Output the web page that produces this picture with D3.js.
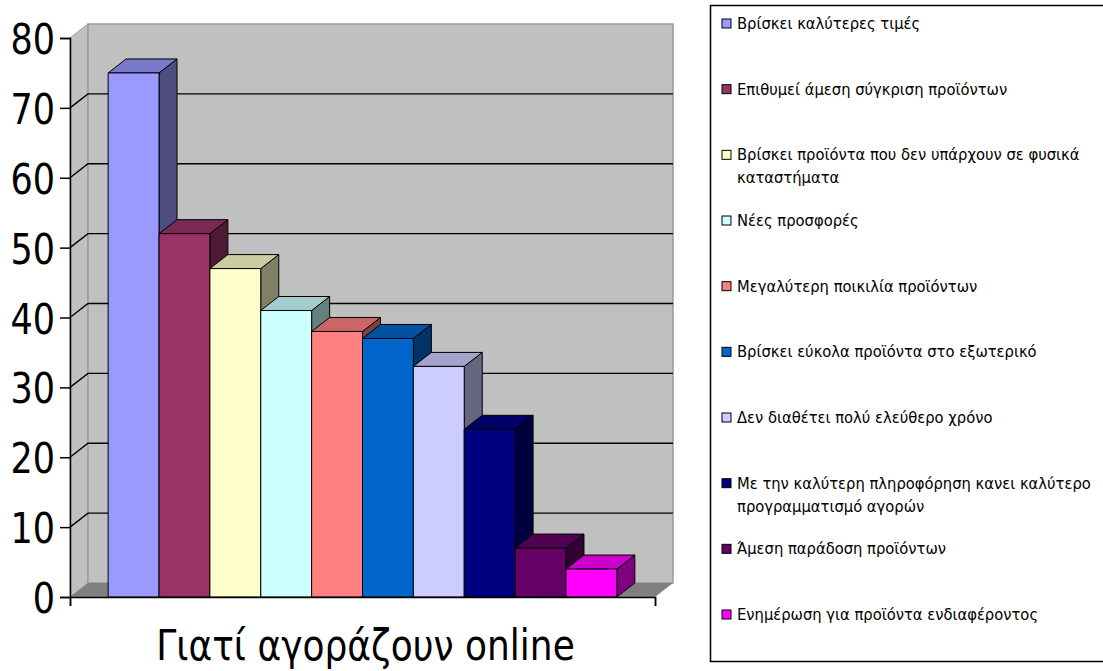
<!DOCTYPE html>
<html>
<head>
<meta charset="utf-8">
<script src="https://cdn.jsdelivr.net/npm/d3@7"></script>
<style>
  body { margin: 0; background: #fff; }
  svg { display: block; }
</style>
</head>
<body>
<svg id="chart" width="1103" height="671"></svg>
<script>
// ---- data ----
const category = "Γιατί αγοράζουν online";

const seriesNames = [
  ["Βρίσκει καλύτερες τιμές"],
  ["Επιθυμεί άμεση σύγκριση προϊόντων"],
  ["Βρίσκει προϊόντα που δεν υπάρχουν σε φυσικά", "καταστήματα"],
  ["Νέες προσφορές"],
  ["Μεγαλύτερη ποικιλία προϊόντων"],
  ["Βρίσκει εύκολα προϊόντα στο εξωτερικό"],
  ["Δεν διαθέτει πολύ ελεύθερο χρόνο"],
  ["Με την καλύτερη πληροφόρηση κανει καλύτερο", "προγραμματισμό αγορών"],
  ["Άμεση παράδοση προϊόντων"],
  ["Ενημέρωση για προϊόντα ενδιαφέροντος"]
];

const seriesValues = [75, 52, 47, 41, 38, 37, 33, 24, 7, 4];

const seriesColors = ["#9999FF", "#993366", "#FFFFCC", "#CCFFFF", "#FF8080",
                      "#0066CC", "#CCCCFF", "#000080", "#660066", "#FF00FF"];

const yTicks = [0, 10, 20, 30, 40, 50, 60, 70, 80];

// ---- layout ----
const svg = d3.select("#chart");
const plot = { left: 70, right: 655, top: 38, bottom: 597 };
const depth = { dx: 18, dy: -14 };   // oblique offset of the 3-D box

const y = d3.scaleLinear().domain([0, 80]).range([plot.bottom, plot.top]);
const xCat = d3.scaleBand().domain([category])
  .range([plot.left, plot.right]).paddingInner(0).paddingOuter(0.075);
const xSer = d3.scaleBand().domain(d3.range(seriesValues.length))
  .range([0, xCat.bandwidth()]).padding(0);

const L = plot.left, R = plot.right, dx = depth.dx, dy = depth.dy;
const y0 = y(0), yMax = y(80);
const pts = a => a.map(p => p.join(",")).join(" ");

// ---- walls and floor ----
const walls = svg.append("g");
walls.append("polygon")     // left side wall
  .attr("points", pts([[L, yMax], [L + dx, yMax + dy], [L + dx, y0 + dy], [L, y0]]))
  .attr("fill", "#C0C0C0").attr("stroke", "#9a9a9a").attr("stroke-width", 1);
walls.append("rect")        // back wall
  .attr("x", L + dx).attr("y", yMax + dy)
  .attr("width", R - L).attr("height", y0 - yMax)
  .attr("fill", "#C0C0C0").attr("stroke", "#9a9a9a").attr("stroke-width", 1.5);
walls.append("polygon")     // floor
  .attr("points", pts([[L, y0], [L + dx, y0 + dy], [R + dx, y0 + dy], [R, y0]]))
  .attr("fill", "#808080");

// gridlines folded across the side wall and the back wall
walls.selectAll("path.grid")
  .data(yTicks.filter(t => t > 0 && t < 80))
  .join("path")
  .attr("class", "grid")
  .attr("d", t => `M${L},${y(t)}L${L + dx},${y(t) + dy}L${R + dx},${y(t) + dy}`)
  .attr("fill", "none").attr("stroke", "#000").attr("stroke-width", 1.4);

// ---- bars ----
const shade = (c, k) => d3.interpolateRgb(c, "#000")(k);
const bars = svg.append("g").attr("stroke", "#000").attr("stroke-width", 1).attr("stroke-linejoin", "round");
seriesValues.forEach((v, i) => {
  const x0 = xCat(category) + xSer(i);
  const w = xSer.bandwidth();
  const yt = y(v);
  const g = bars.append("g");
  g.append("polygon")   // side
    .attr("points", pts([[x0 + w, yt], [x0 + w + dx, yt + dy], [x0 + w + dx, y0 + dy], [x0 + w, y0]]))
    .attr("fill", shade(seriesColors[i], 0.5));
  g.append("polygon")   // top
    .attr("points", pts([[x0, yt], [x0 + dx, yt + dy], [x0 + w + dx, yt + dy], [x0 + w, yt]]))
    .attr("fill", shade(seriesColors[i], 0.2));
  g.append("rect")      // front
    .attr("x", x0).attr("y", yt).attr("width", w).attr("height", y0 - yt)
    .attr("fill", seriesColors[i]);
});

// ---- axes ----
const yAxis = svg.append("g")
  .attr("transform", `translate(${L},0)`)
  .call(d3.axisLeft(y).tickValues(yTicks).tickSize(10).tickPadding(5));
yAxis.select(".domain").attr("stroke", "#000").attr("stroke-width", 1.5);
yAxis.selectAll(".tick line").attr("stroke", "#000").attr("stroke-width", 1.5);
yAxis.selectAll(".tick text")
  .attr("fill", "#000")
  .attr("font-family", "DejaVu Sans, Verdana, sans-serif")
  .attr("font-size", 35)
  .attr("dy", "0.365em")
  .attr("transform", "scale(1,1.22)");

const xEdge = d3.scaleLinear().domain([0, 1]).range([L, R]);
const xAxis = svg.append("g")
  .attr("transform", `translate(0,${y0})`)
  .call(d3.axisBottom(xEdge).tickValues([0, 1]).tickSize(9).tickFormat(""));
xAxis.select(".domain").attr("stroke", "#000").attr("stroke-width", 1.5);
xAxis.selectAll(".tick line").attr("stroke", "#000").attr("stroke-width", 1.5);

// category label
svg.append("text")
  .attr("transform", `translate(${(L + R) / 2 + 3},660) scale(1,1.18)`)
  .attr("text-anchor", "middle")
  .attr("font-family", "DejaVu Sans, Verdana, sans-serif")
  .attr("font-size", 36)
  .attr("fill", "#000")
  .text(category);

// ---- legend ----
const legend = svg.append("g");
legend.append("rect")
  .attr("x", 710.5).attr("y", 5.5).attr("width", 400).attr("height", 656)
  .attr("fill", "#fff").attr("stroke", "#000").attr("stroke-width", 1.5);

const ly = d3.scalePoint().domain(d3.range(seriesNames.length)).range([29, 620]);
const items = legend.selectAll("g.item").data(seriesNames).join("g")
  .attr("class", "item")
  .attr("transform", (d, i) => `translate(722,${ly(i)})`);
items.append("rect")
  .attr("x", 0).attr("y", -10).attr("width", 9).attr("height", 9)
  .attr("fill", (d, i) => seriesColors[i]).attr("stroke", "#000").attr("stroke-width", 1);
items.append("text")
  .attr("x", 15)
  .attr("font-family", "DejaVu Sans Condensed, DejaVu Sans, sans-serif")
  .attr("font-size", 16.4)
  .attr("fill", "#000")
  .selectAll("tspan").data(d => d).join("tspan")
  .attr("x", 15).attr("dy", (d, j) => j === 0 ? 0 : 23)
  .text(d => d);
</script>
</body>
</html>
